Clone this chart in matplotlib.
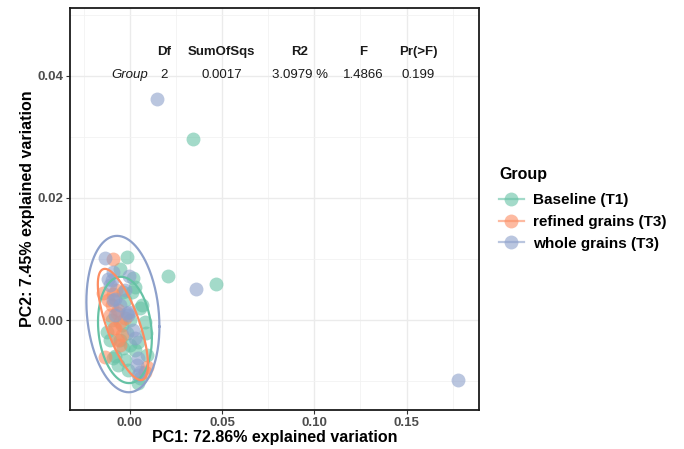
import numpy as np
import matplotlib
matplotlib.use('Agg')
import matplotlib.pyplot as plt
from matplotlib.lines import Line2D

plt.rcParams['font.family'] = ['Liberation Sans', 'DejaVu Sans']

groups = ['Baseline (T1)', 'refined grains (T3)', 'whole grains (T3)']
colors = ['#66C2A5', '#FC8D62', '#8DA0CB']

# PC1 / PC2 scores
base_x = [-0.0016, -0.0054, 0.0027, 0.0054, 0.0065, -0.0016, -0.0125, -0.0108, -0.0038,
          -0.0092, -0.0027, 0.0054, 0.0043, 0.0087, 0.0092, -0.0081, 0.0000, -0.0054,
          0.0027, -0.0011, -0.0065, 0.0081, -0.0027, 0.0011, -0.0098, 0.0043, 0.0000,
          -0.0043, -0.0038, 0.0016, 0.0206, 0.0466, 0.0343]
base_y = [0.0103, 0.0083, 0.0054, 0.0020, 0.0025, -0.0021, -0.0020, -0.0033, -0.0046,
          -0.0062, -0.0065, -0.0095, -0.0103, -0.0021, -0.0057, -0.0059, 0.0000, -0.0033,
          -0.0049, -0.0082, -0.0074, -0.0003, 0.0033, 0.0046, 0.0000, -0.0036, -0.0041,
          -0.0008, 0.0046, 0.0069, 0.0072, 0.0059, 0.0297]

ref_x = [-0.0092, -0.0146, -0.0092, -0.0070, -0.0081, -0.0136, 0.0092, -0.0065, -0.0087,
         -0.0054, -0.0098, -0.0043, -0.0119, -0.0065, -0.0027, -0.0108, -0.0076, -0.0054,
         0.0081]
ref_y = [0.0100, 0.0044, 0.0043, 0.0011, -0.0013, -0.0061, -0.0077, 0.0016, -0.0013,
         -0.0003, 0.0025, -0.0025, 0.0033, -0.0033, 0.0003, 0.0008, 0.0049, -0.0041,
         -0.0085]

whole_x = [-0.0136, -0.0092, -0.0005, -0.0098, -0.0092, -0.0081, -0.0016, 0.0027, 0.0038,
           0.0043, 0.0054, -0.0011, -0.0119, -0.0081, -0.0005, 0.0043, -0.0054, -0.0027,
           0.0016, -0.0108, 0.0148, 0.0358, 0.1779]
whole_y = [0.0101, 0.0079, 0.0072, 0.0065, 0.0033, 0.0008, 0.0011, -0.0029, -0.0074,
           -0.0090, -0.0085, 0.0008, 0.0067, 0.0034, 0.0013, -0.0062, 0.0025, 0.0049,
           -0.0016, 0.0057, 0.0362, 0.0051, -0.0098]

# 95% ellipses: centre, half-extent in x and y, correlation
ell_cx = [-0.0027, -0.0038, -0.0038]
ell_cy = [-0.0016, -0.0007, 0.0010]
ell_hx = [0.0146, 0.0136, 0.0198]
ell_hy = [0.0087, 0.0091, 0.0128]
ell_rho = [-0.15, -0.72, -0.16]

# PERMANOVA table
tab_head = ['Df', 'SumOfSqs', 'R2', 'F', 'Pr(>F)']
tab_row = ['2', '0.0017', '3.0979 %', '1.4866', '0.199']
tab_name = 'Group'

fig = plt.figure(figsize=(6.84, 4.49), dpi=100)
ax = fig.add_axes([0.1023, 0.0869, 0.598, 0.8953])

xs = [base_x, ref_x, whole_x]
ys = [base_y, ref_y, whole_y]
for gx, gy, col in zip(xs, ys, colors):
    ax.scatter(gx, gy, s=100, c=col, alpha=0.6, lw=0, zorder=3)

t = np.linspace(0, 2 * np.pi, 300)
for i, col in enumerate(colors):
    r = ell_rho[i]
    ex = ell_cx[i] + ell_hx[i] * np.cos(t)
    ey = ell_cy[i] + ell_hy[i] * (r * np.cos(t) + np.sqrt(1 - r ** 2) * np.sin(t))
    ax.plot(ex, ey, color=col, lw=1.6, zorder=4)

ax.set_xlim(-0.0325, 0.1893)
ax.set_ylim(-0.0147, 0.0511)
ax.set_xticks([0.0, 0.05, 0.10, 0.15])
ax.set_xticklabels(['0.00', '0.05', '0.10', '0.15'])
ax.set_yticks([0.0, 0.02, 0.04])
ax.set_yticklabels(['0.00', '0.02', '0.04'])
ax.set_xticks([-0.025, 0.025, 0.075, 0.125, 0.175], minor=True)
ax.set_yticks([-0.01, 0.01, 0.03, 0.05], minor=True)
ax.grid(which='major', color='#EBEBEB', lw=1.0, zorder=0)
ax.grid(which='minor', color='#F2F2F2', lw=0.6, zorder=0)
ax.set_axisbelow(True)
ax.tick_params(which='major', length=3, width=0.8, color='#333333',
               labelsize=9.5, labelcolor='#4D4D4D', pad=2)
ax.tick_params(which='minor', length=0)
for lab in ax.get_xticklabels() + ax.get_yticklabels():
    lab.set_fontweight('bold')
for sp in ax.spines.values():
    sp.set_color('#1A1A1A')
    sp.set_linewidth(1.3)

ax.set_xlabel('PC1: 72.86% explained variation', fontsize=11.5, fontweight='bold', labelpad=1)
ax.set_ylabel('PC2: 7.45% explained variation', fontsize=11.5, fontweight='bold', labelpad=1.7)

col_x = [0.230, 0.371, 0.5623, 0.7164, 0.851]
for cx, h, v in zip(col_x, tab_head, tab_row):
    ax.text(cx, 0.8913, h, transform=ax.transAxes, ha='center', va='center',
            fontsize=9.5, fontweight='bold', color='#1A1A1A')
    ax.text(cx, 0.8333, v, transform=ax.transAxes, ha='center', va='center',
            fontsize=9.5, color='#1A1A1A')
ax.text(0.1467, 0.8333, tab_name, transform=ax.transAxes, ha='center', va='center',
        fontsize=9.5, style='italic', color='#1A1A1A')

handles = [Line2D([0], [0], color=c, marker='o', markersize=10, lw=1.6, alpha=0.6,
                  markeredgewidth=0) for c in colors]
leg = ax.legend(handles, groups, title='Group', loc='center left',
                bbox_to_anchor=(1.0155, 0.5), frameon=False, handlelength=1.6,
                handletextpad=0.6, labelspacing=0.5,
                prop={'size': 11, 'weight': 'bold'},
                title_fontproperties={'size': 11.5, 'weight': 'bold'})
leg._legend_box.align = 'left'
leg._legend_box.sep = 8

fig.savefig('out.png', dpi=100)
